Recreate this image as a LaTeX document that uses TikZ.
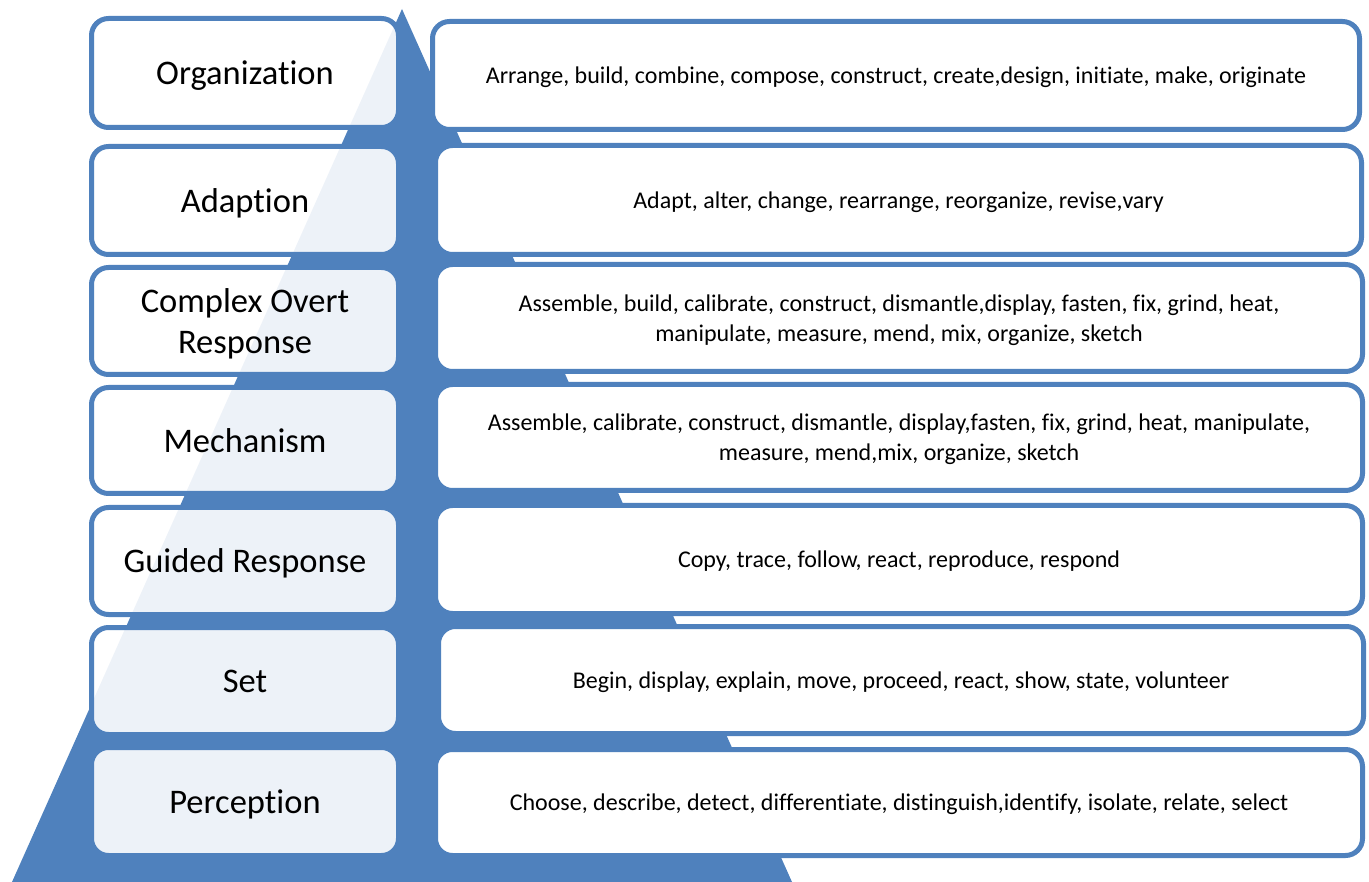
\documentclass[tikz,border=0pt]{standalone}
\usepackage{fontspec}
\setmainfont{Carlito}[Ligatures=NoCommon]
\definecolor{accent}{HTML}{4F81BD}
\begin{document}
\begin{tikzpicture}[x=1pt,y=-1pt,
  lbox/.style={draw=accent, line width=5pt, rounded corners=17pt, fill=white, fill opacity=0.9, text opacity=1,
    minimum width=307pt, align=center, inner sep=0pt, text depth=0pt, font=\fontsize{34.5}{41}\selectfont},
  rbox/.style={draw=accent, line width=5pt, rounded corners=17pt, fill=white,
    align=center, inner sep=0pt, text depth=0pt, font=\fontsize{24}{30}\selectfont}]
\useasboundingbox (0,0) rectangle (1369,882);
\fill[accent] (402,9) -- (792,882) -- (12,882) -- cycle;
% left boxes
\node[lbox, minimum height=109pt] (lorg) at (245,73) {Organization};
\node[lbox, minimum height=108pt] (ladapt) at (245,200.5) {Adaption};
\node[lbox, minimum height=107pt] (lcomplex) at (245,321) {Complex Overt\\Response};
\node[lbox, minimum height=106pt] (lmech) at (245,440.5) {Mechanism};
\node[lbox, minimum height=107pt] (lguided) at (245,561) {Guided Response};
\node[lbox, minimum height=107pt] (lset) at (245,681) {Set};
\node[lbox, minimum height=108pt] (lperc) at (245,801.5) {Perception};
% right boxes
\node[rbox, minimum width=927pt, minimum height=108pt] (rorg) at (896,75.5) {Arrange, build, combine, compose, construct, create,design, initiate, make, originate};
\node[rbox, minimum width=926pt, minimum height=109pt] (radapt) at (898.5,200) {Adapt, alter, change, rearrange, reorganize, revise,vary};
\node[rbox, minimum width=927pt, minimum height=107pt] (rcomplex) at (899,318) {Assemble, build, calibrate, construct, dismantle,display, fasten, fix, grind, heat,\\manipulate, measure, mend, mix, organize, sketch};
\node[rbox, minimum width=927pt, minimum height=106pt] (rmech) at (899,437.5) {Assemble, calibrate, construct, dismantle, display,fasten, fix, grind, heat, manipulate,\\measure, mend,mix, organize, sketch};
\node[rbox, minimum width=927pt, minimum height=108pt] (rguided) at (899,559.5) {Copy, trace, follow, react, reproduce, respond};
\node[rbox, minimum width=925pt, minimum height=107pt] (rset) at (901,680) {Begin, display, explain, move, proceed, react, show, state, volunteer};
\node[rbox, minimum width=927pt, minimum height=106pt] (rperc) at (899,802.5) {Choose, describe, detect, differentiate, distinguish,identify, isolate, relate, select};
\end{tikzpicture}
\end{document}
